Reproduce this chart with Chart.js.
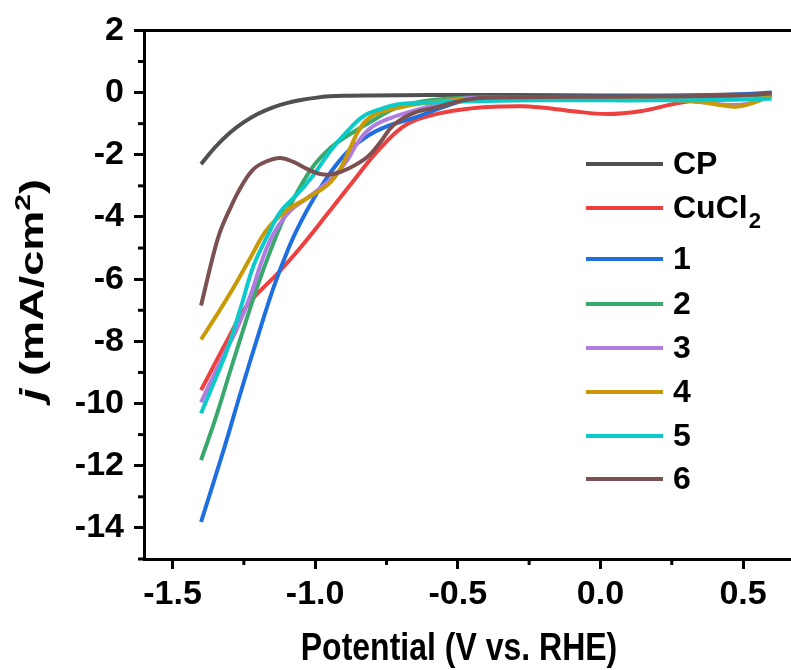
<!DOCTYPE html>
<html>
<head>
  <title>LSV curves</title>
  <script src="https://cdn.jsdelivr.net/npm/chart.js"></script>
  <style>
    body { margin: 0; background: #fff; }
    canvas { display: block; }
  </style>
</head>
<body>
  <canvas id="lsvChart" width="791" height="670"></canvas>
  <script>
    // series names and colours
    const seriesNames = ['CP', 'CuCl2', '1', '2', '3', '4', '5', '6'];
    const seriesColors = ['#505050', '#ef4040', '#1e6fe0', '#39a86c', '#b07ce0', '#c99a06', '#0bcaca', '#7b5050'];

    // potential (V vs. RHE) and current density (mA/cm2)
    const cpV = [-1.4, -1.35, -1.3, -1.25, -1.2, -1.15, -1.1, -1.05, -1.0, -0.95, -0.9, -0.8, -0.6, -0.3, 0, 0.3, 0.5, 0.6];
    const cpJ = [-2.3, -1.75, -1.3, -0.95, -0.68, -0.48, -0.34, -0.24, -0.17, -0.12, -0.1, -0.09, -0.08, -0.08, -0.09, -0.09, -0.06, -0.03];

    const cuclV = [-1.4, -1.314, -1.244, -1.192, -1.132, -1.052, -0.957, -0.866, -0.771, -0.677, -0.561, -0.446, -0.35, -0.271, -0.18, -0.095, 0.024, 0.139, 0.255, 0.374, 0.5, 0.6];
    const cuclJ = [-9.57, -8.07, -6.91, -6.37, -5.82, -4.99, -3.9, -2.84, -1.78, -1.01, -0.66, -0.5, -0.45, -0.44, -0.5, -0.6, -0.69, -0.6, -0.37, -0.18, -0.07, -0.02];

    const s1V = [-1.4, -1.321, -1.262, -1.202, -1.146, -1.094, -1.052, -1.006, -0.947, -0.887, -0.817, -0.747, -0.656, -0.561, -0.456, -0.35, -0.2, 0, 0.2, 0.4, 0.5, 0.6];
    const s1J = [-13.81, -11.5, -9.67, -7.87, -6.27, -5.02, -4.19, -3.42, -2.58, -1.91, -1.4, -1.08, -0.82, -0.5, -0.21, -0.15, -0.14, -0.13, -0.12, -0.08, -0.05, 0.0];

    const s2V = [-1.4, -1.349, -1.297, -1.244, -1.199, -1.157, -1.111, -1.062, -1.006, -0.947, -0.894, -0.842, -0.789, -0.726, -0.621, -0.5, -0.3, 0, 0.3, 0.5, 0.6];
    const s2J = [-11.82, -10.47, -8.93, -7.39, -6.14, -5.09, -4.06, -3.19, -2.36, -1.78, -1.43, -1.14, -0.85, -0.53, -0.28, -0.18, -0.15, -0.14, -0.13, -0.1, -0.05];

    const s3V = [-1.4, -1.367, -1.325, -1.272, -1.227, -1.185, -1.146, -1.087, -1.027, -0.982, -0.936, -0.887, -0.852, -0.806, -0.736, -0.621, -0.502, -0.3, 0, 0.2, 0.35, 0.45, 0.52, 0.6];
    const s3J = [-9.96, -9.32, -8.52, -7.55, -6.53, -5.37, -4.54, -3.8, -3.39, -3.07, -2.71, -2.17, -1.62, -1.14, -0.82, -0.5, -0.21, -0.17, -0.17, -0.2, -0.3, -0.4, -0.35, -0.1];

    const s4V = [-1.4, -1.342, -1.286, -1.227, -1.167, -1.097, -1.027, -0.957, -0.912, -0.877, -0.842, -0.796, -0.701, -0.561, -0.4, -0.2, 0, 0.2, 0.35, 0.42, 0.48, 0.53, 0.6];
    const s4J = [-7.94, -7.11, -6.27, -5.31, -4.38, -3.77, -3.39, -2.97, -2.46, -1.78, -1.14, -0.73, -0.47, -0.28, -0.2, -0.2, -0.2, -0.22, -0.3, -0.4, -0.45, -0.35, -0.08];

    const s5V = [-1.4, -1.356, -1.307, -1.262, -1.216, -1.167, -1.122, -1.062, -1.006, -0.947, -0.887, -0.831, -0.771, -0.701, -0.561, -0.4, -0.2, 0, 0.2, 0.4, 0.5, 0.6];
    const s5J = [-10.31, -9.35, -8.23, -6.95, -5.57, -4.6, -3.84, -3.26, -2.65, -1.88, -1.24, -0.76, -0.53, -0.37, -0.31, -0.27, -0.25, -0.25, -0.25, -0.24, -0.22, -0.2];

    const s6V = [-1.4, -1.356, -1.332, -1.307, -1.262, -1.216, -1.167, -1.122, -1.076, -1.027, -0.982, -0.936, -0.887, -0.817, -0.771, -0.726, -0.656, -0.586, -0.456, -0.3, 0, 0.3, 0.5, 0.6];
    const s6J = [-6.85, -5.18, -4.44, -3.9, -3.07, -2.46, -2.2, -2.1, -2.23, -2.46, -2.62, -2.62, -2.46, -2.07, -1.59, -1.05, -0.66, -0.5, -0.21, -0.15, -0.13, -0.12, -0.08, -0.03];

    const xTicks = [-1.5, -1.0, -0.5, 0, 0.5];
    const yTicks = [-14, -12, -10, -8, -6, -4, -2, 0, 2];

    const allV = [cpV, cuclV, s1V, s2V, s3V, s4V, s5V, s6V];
    const allJ = [cpJ, cuclJ, s1J, s2J, s3J, s4J, s5J, s6J];

    const FONT = '"Liberation Sans", Arial, sans-serif';

    const datasets = seriesNames.map((name, i) => ({
      label: name,
      data: allV[i].map((v, k) => ({ x: v, y: allJ[i][k] })),
      borderColor: seriesColors[i],
      borderWidth: 4,
      pointRadius: 0,
      fill: false,
      tension: 0.4,
      order: seriesNames.length - i
    }));

    // frame top line, minor ticks, axis titles and legend
    const decor = {
      id: 'decor',
      afterDraw(chart) {
        const ctx = chart.ctx;
        const a = chart.chartArea;
        const xs = chart.scales.x, ys = chart.scales.y;
        ctx.save();
        ctx.strokeStyle = '#000';
        ctx.lineWidth = 3;
        ctx.beginPath();
        ctx.moveTo(a.left - 1.5, a.top);
        ctx.lineTo(a.right, a.top);
        ctx.stroke();

        // minor ticks
        [-1.25, -0.75, -0.25, 0.25].forEach(v => {
          const px = xs.getPixelForValue(v);
          ctx.beginPath();
          ctx.moveTo(px, a.bottom);
          ctx.lineTo(px, a.bottom + 6);
          ctx.stroke();
        });
        [-15, -13, -11, -9, -7, -5, -3, -1, 1].forEach(v => {
          const py = ys.getPixelForValue(v);
          ctx.beginPath();
          ctx.moveTo(a.left, py);
          ctx.lineTo(a.left - 6, py);
          ctx.stroke();
        });

        // x title (slightly tall lettering)
        ctx.fillStyle = '#000';
        ctx.font = 'bold 32px ' + FONT;
        ctx.textAlign = 'center';
        ctx.textBaseline = 'alphabetic';
        ctx.save();
        ctx.translate(459, 660);
        ctx.scale(1, 1.2);
        ctx.fillText('Potential (V vs. RHE)', 0, 0);
        ctx.restore();

        // y title: italic j, superscript 2
        ctx.save();
        ctx.translate(31, 290);
        ctx.rotate(-Math.PI / 2);
        const parts = [
          { t: 'j', f: 'italic bold 33px ' + FONT, dy: 0 },
          { t: ' (mA/cm', f: 'bold 33px ' + FONT, dy: 0 },
          { t: '2', f: 'bold 22px ' + FONT, dy: -13 },
          { t: ')', f: 'bold 33px ' + FONT, dy: 0 }
        ];
        let total = 0;
        parts.forEach(p => { ctx.font = p.f; p.w = ctx.measureText(p.t).width; total += p.w; });
        ctx.scale(222 / total, 1);
        let cx = -total / 2;
        ctx.textAlign = 'left';
        ctx.textBaseline = 'alphabetic';
        parts.forEach(p => { ctx.font = p.f; ctx.fillText(p.t, cx, 12 + p.dy); cx += p.w; });
        ctx.restore();
        ctx.restore();

        // legend
        const rows = [164, 208, 259, 304, 348, 392, 436, 479];
        ctx.save();
        ctx.textBaseline = 'middle';
        ctx.textAlign = 'left';
        seriesNames.forEach((name, i) => {
          const y = rows[i];
          ctx.strokeStyle = seriesColors[i];
          ctx.lineWidth = 4;
          ctx.beginPath();
          ctx.moveTo(586, y);
          ctx.lineTo(663, y);
          ctx.stroke();
          ctx.fillStyle = '#000';
          ctx.font = 'bold 32px ' + FONT;
          if (name === 'CuCl2') {
            ctx.fillText('CuCl', 673, y + 1);
            const w = ctx.measureText('CuCl').width;
            ctx.font = 'bold 22px ' + FONT;
            ctx.fillText('2', 673 + w + 1, y + 14);
          } else {
            ctx.fillText(name, 673, y + 1);
          }
        });
        ctx.restore();
      }
    };

    new Chart(document.getElementById('lsvChart').getContext('2d'), {
      type: 'line',
      data: { datasets: datasets },
      plugins: [decor],
      options: {
        responsive: false,
        animation: false,
        layout: { padding: { top: 29, right: 0, left: 0, bottom: 0 } },
        plugins: { legend: { display: false }, tooltip: { enabled: false } },
        scales: {
          x: {
            type: 'linear',
            min: -1.6,
            max: 0.668,
            afterFit: s => { s.height = 111; },
            afterBuildTicks: s => { s.ticks = xTicks.map(v => ({ value: v })); },
            border: { color: '#000', width: 3 },
            grid: { drawOnChartArea: false, tickLength: 10, tickWidth: 3, tickColor: '#000' },
            ticks: {
              color: '#000',
              padding: 5,
              font: { family: FONT, size: 34, weight: 'bold' },
              callback: v => v.toFixed(1)
            }
          },
          y: {
            type: 'linear',
            min: -15,
            max: 2,
            afterFit: s => { s.width = 144; },
            afterBuildTicks: s => { s.ticks = yTicks.map(v => ({ value: v })); },
            border: { color: '#000', width: 3 },
            grid: { drawOnChartArea: false, tickLength: 10, tickWidth: 3, tickColor: '#000' },
            ticks: {
              color: '#000',
              padding: 10,
              font: { family: FONT, size: 34, weight: 'bold' },
              callback: v => String(v)
            }
          }
        }
      }
    });
  </script>
</body>
</html>
